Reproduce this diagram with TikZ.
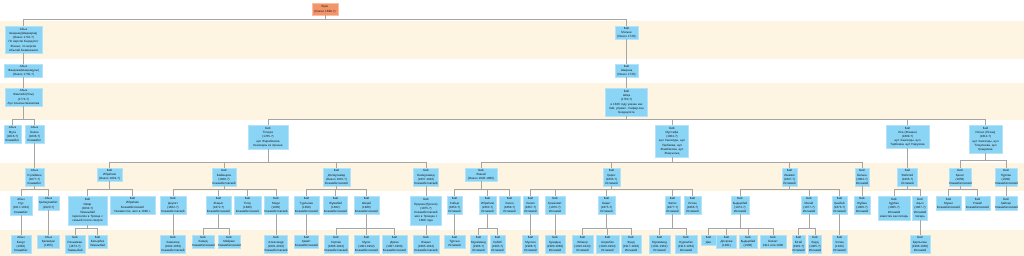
\documentclass[tikz,border=0pt]{standalone}
\usepackage{fontspec}
\setmainfont{Liberation Sans}
\definecolor{band}{RGB}{253,244,226}
\definecolor{nblue}{RGB}{138,212,246}
\definecolor{nborder}{RGB}{180,226,248}
\definecolor{rootfill}{RGB}{244,148,106}
\definecolor{rootborder}{RGB}{250,190,160}
\definecolor{lgray}{RGB}{165,165,165}
\definecolor{txt}{RGB}{25,25,25}
\tikzset{
 pn/.style={fill=nblue, draw=nborder, line width=0.3pt, inner xsep=0pt, inner ysep=0.3pt, align=center, anchor=north, font=\fontsize{3}{4.2}\selectfont, text=txt},
 rootn/.style={pn, fill=rootfill, draw=rootborder},
 conn/.style={draw=lgray, line width=1pt},
}
\newcommand\pnode[7][pn]{\node[#1, text width=#5pt, minimum height=#6pt] (#2) at (#3,#4) {#7};}
\newcommand\bus[3]{\foreach \c in {#3}{\draw[conn] (#1.south) -- (#1.south |- #2) -| (\c.north);}}
\newcommand\sln[2]{\draw[conn] (#1.south) -- (#2.north);}
\begin{document}
\begin{tikzpicture}[x=1pt,y=-1pt]
\useasboundingbox (0,0) rectangle (1024,256);
\fill[white] (0,0) rectangle (1024,256);
\fill[band] (0,21) rectangle (1024,59);
\fill[band] (0,83) rectangle (1024,120);
\fill[band] (0,163) rectangle (1024,191);
\fill[band] (0,230) rectangle (1024,256);
\coordinate (L20) at (0,20);
\coordinate (L120) at (0,120);
\coordinate (L161) at (0,161);
\coordinate (L163) at (0,163);
\coordinate (L190) at (0,190);
\coordinate (L229) at (0,229);
% row 0
\pnode[rootn]{root}{325}{3}{26}{12}{Бірін\\(Онкоо 1698-?)}
% row 1
\pnode{A1}{23.5}{26}{37}{27}{Абыз\\Шақшақ(Шақшарақ)\\(Онкоо 1710-?)\\По версии Бағдәулет\\Жаныс, по версии\\Абылай Бекмаханов}
\pnode{B1}{626.5}{26}{23}{13}{Бий\\Матыш\\(Онкоо 1730)}
% row 2
\pnode{A2}{23.5}{64}{38}{13}{Абыз\\Жанқожа(Шақшақұлы)\\(Онкоо 1735-?)}
\pnode{B2}{626.5}{64}{23}{13}{Бий\\Шақшақ\\(Онкоо 1735)}
% row 3
\pnode{A3}{23.5}{88}{37}{18}{Абыз\\Жанпейіс(Ұлы)\\(1774-?)\\Аул Асылан Шағалова}
\pnode{B3}{626.5}{88}{42}{28}{Бий\\Шоқа\\(1763-?)\\в 1820 году указан как\\бий, управл. Сафар-хан\\Бекдаулета}
% row 4
\pnode{A4a}{12.5}{125}{17}{18}{Абыз\\Мұса\\(1816-?)\\Кожамбет}
\pnode{A4b}{34.5}{125}{19}{18}{Абыз\\Бекен\\(1836-?)\\Кожамбет}
\pnode{T4}{268}{125}{40}{24}{Бий\\Тілеуке\\(1785-?)\\аул Жарабекова\\Кенесары из Аргына}
\pnode{M4}{672}{125}{33}{32}{Бий\\Мұстафа\\(1804-?)\\аул Хангелды, аул\\Тарбеева, аул\\Жамбекова, аул\\Жақсылық}
\pnode{I4}{907.5}{125}{43}{23}{Бий\\Иса (Жанаш)\\(1809-?)\\аул Хангелды, аул\\Тарбеева, аул Нарузова}
\pnode{K4}{985.5}{125}{33}{28}{Бий\\Ихлас (Исхақ)\\(1814-?)\\аул Хангелды, аул\\Тілеулеева, аул\\Қошумова}
% row 5
\pnode{A5}{34.5}{168}{19}{18}{Абыз\\Сүлеймен\\(1877-?)\\Кожамбет}
\pnode{Ib5}{109.5}{168}{25}{13}{Бий\\Ибраһим\\(Онкоо 1819-?)}
\pnode{Bm5}{224}{168}{24}{18}{Бий\\Баймырза\\(1828-?)\\Кожамбетовский}
\pnode{D5}{336.5}{168}{27}{18}{Бий\\Досмұхамед\\(Онкоо 1815-?)\\Кожамбетовский}
\pnode{Be5}{426}{168}{25}{18}{Бий\\Бекмұхамед\\(1837-1892)\\Кожамбетовский}
\pnode{Zh5}{481}{168}{32}{13}{Бий\\Жанай\\(Онкоо 1826-1880)}
\pnode{Q5}{611.5}{168}{17}{18}{Бий\\Қарес\\(1835-?)\\Исламий}
\pnode{Ish5}{789.5}{168}{15}{18}{Бий\\Ишмем\\(1837-?)\\Исламий}
\pnode{Bt5}{862}{168}{14}{18}{Бий\\Батыш\\(1864-?)\\Исламий}
\pnode{U5}{907.5}{168}{20}{18}{Бий\\Ұмбетей\\(1836-?)\\Исламий}
\pnode{Kn5}{960}{168}{22}{18}{Бий\\Қанат\\(1858)\\Кожамбетовский}
\pnode{Nr5}{1006}{168}{22}{18}{Бий\\Нұрлан\\(1860)\\Кожамбетовский}
% row 6
\pnode{A6a}{21}{196}{22}{19}{Абыз\\Нұх\\(1917-1942)\\Кожамбет}
\pnode{A6b}{48.5}{196}{21}{14}{Абыз\\Қалмұхамбет\\(1920-?)}
\pnode{O6}{87.5}{196}{39}{29}{Бий\\Омар\\(1834-?)\\Тамшыбай\\переселён в Троицк с\\семьёй после смерти}
\pnode{Ib6}{132.5}{196}{45}{18}{Бий\\Ибраһим\\Кожамбетовский\\Неизвестно, жил в 1896 г.}
\pnode{Da6}{173}{196}{26}{18}{Бий\\Дәулет\\(1862-?)\\Кожамбетовский}
\pnode{Zq6}{218.5}{196}{25}{18}{Бий\\Жақып\\(1872-?)\\Кожамбетовский}
\pnode{T6}{247.5}{196}{27}{18}{Бий\\Тілеу\\(1880)\\Кожамбетовский}
\pnode{Md6}{276}{196}{24}{18}{Бий\\Мәди\\(1885)\\Кожамбетовский}
\pnode{Tr6}{306.5}{196}{25}{18}{Бий\\Тұрлыхан\\(1858)\\Кожамбетовский}
\pnode{Zm6}{335.5}{196}{24}{18}{Бий\\Жұмабай\\(1862)\\Кожамбетовский}
\pnode{Sh6}{366.5}{196}{25}{18}{Бий\\Шоқай\\(1866)\\Кожамбетовский}
\pnode{Er6}{426}{196}{31}{29}{Бий\\Ерқожа (Ерғали)\\(1875-?)\\Кожамбетовский\\жил в Троицке с\\1898 года}
\pnode{Sb6}{454.5}{196}{15}{18}{Бий\\Сабыр\\(1853-?)\\Исламий}
\pnode{Ib6b}{487.5}{196}{17}{18}{Бий\\Ибраһим\\(1863-?)\\Исламий}
\pnode{Hs6}{509.5}{196}{21}{18}{Бий\\Хасен\\(1868-?)\\Исламий}
\pnode{Hl6}{530.5}{196}{15}{18}{Бий\\Халел\\(1867-?)\\Исламий}
\pnode{Qz6}{555}{196}{20}{18}{Бий\\Қожахмет\\(1876-?)\\Исламий}
\pnode{Bq6}{606.5}{196}{17}{18}{Бий\\Бақыт\\(1875-?)\\Исламий}
\pnode{Ft6}{672.5}{196}{15}{18}{Бий\\Фатих\\(1877-?)\\Исламий}
\pnode{Is6}{692.5}{196}{17}{18}{Бий\\Исхақ\\(1866-?)\\Исламий}
\pnode{Qd6}{740}{196}{18}{18}{Бий\\Қыдырбай\\(1873-?)\\Исламий}
\pnode{Mt6}{809}{196}{16}{18}{Бий\\Матай\\(1877-?)\\Исламий}
\pnode{Qb6}{839.5}{196}{15}{18}{Бий\\Қанбай\\(1876-?)\\Исламий}
\pnode{Zb6}{862}{196}{16}{18}{Бий\\Жұбаш\\(1900-?)\\Исламий}
\pnode{Qr6}{894}{196}{32}{24}{Бий\\Құрбан\\(1865-?)\\Исламий\\известен как писарь}
\pnode{Aq6}{920}{196}{15}{24}{Бий\\Ақыл\\(1867-?)\\Исламий\\писарь}
\pnode{Ms6}{948.5}{196}{25}{14}{Бий\\Мұғыл\\Кожамбетовский}
\pnode{Tq6}{977.5}{196}{25}{14}{Бий\\Ұлжай\\Кожамбетовский}
\pnode{Qs6}{1006}{196}{22}{14}{Бий\\Қайсар\\Кожамбетовский}
% row 7
\pnode{A7a}{21}{235}{20}{18}{Абыз\\Бекұл\\(1940)\\Кожамбет}
\pnode{A7b}{48.5}{235}{22}{13}{Абыз\\Қаламқас\\(1955)}
\pnode{R7a}{75}{235}{20}{18}{Бий\\Рахымжан\\(1873-?)\\Тамшыбай}
\pnode{R7b}{97.5}{235}{19}{13}{Бий\\Батырбек\\Тамшыбай}
\pnode{Hz7}{173}{235}{25}{18}{Бий\\Хамзагер\\(1902-1962)\\Кожамбетовский}
\pnode{Hm7}{203}{235}{22}{13}{Бий\\Хамид\\Кожамбетовский}
\pnode{Mr7}{229}{235}{22}{13}{Бий\\Мейрам\\Кожамбетовский}
\pnode{Al7}{276}{235}{23}{18}{Бий\\Александр\\(1901-2010)\\Кожамбетовский}
\pnode{Hmt7}{306.5}{235}{24}{13}{Бий\\Қамит\\Кожамбетовский}
\pnode{Hr7}{336}{235}{24}{18}{Бий\\Хорлан\\(1896-1942)\\Кожамбетовский}
\pnode{Mg7}{366.5}{235}{25}{18}{Бий\\Мұғиз\\(1901-1962)\\Кожамбетовский}
\pnode{Dh7}{394.5}{235}{25}{18}{Бий\\Дихан\\(1907-1968)\\Кожамбетовский}
\pnode{Zq7}{426}{235}{26}{18}{Бий\\Жақып\\(1885-1942)\\Кожамбетовский}
\pnode{Tr7}{454.5}{235}{21}{13}{Бий\\Тұрсын\\Исламий}
\pnode{Mh7}{478.5}{235}{17}{18}{Бий\\Мұхаммед\\(1906-?)\\Исламий}
\pnode{Hb7}{497.5}{235}{15}{18}{Бий\\Хабиб\\(1903-?)\\Исламий}
\pnode{Mh7b}{530.5}{235}{16}{18}{Бий\\Мұхсин\\(1908-?)\\Исламий}
\pnode{Qn7}{555}{235}{20}{18}{Бий\\Қуандық\\(1900-1960)\\Исламий}
\pnode{Al7b}{582.5}{235}{21}{18}{Бий\\Әлішер\\(1916-1943)\\Исламий}
\pnode{As7}{607.5}{235}{23}{18}{Бий\\Асқанбек\\(1910-1993)\\Исламий}
\pnode{Fd7}{631}{235}{20}{18}{Бий\\Фуад\\(1917-1992)\\Исламий}
\pnode{Mh7c}{659.5}{235}{21}{18}{Бий\\Мұхаммед\\(1911-1962)\\Исламий}
\pnode{Nr7}{686}{235}{22}{18}{Бий\\Нұрлыбек\\(1913-1962)\\Исламий}
\pnode{Dn7}{708.5}{235}{15}{10}{Бий\\Дан}
\pnode{Dk7}{726.5}{235}{20}{13}{Бий\\Досқожа\\(1901)}
\pnode{Qb7}{748}{235}{18}{13}{Бий\\Қыдырбай\\(1908)}
\pnode{Bk7}{773}{235}{26}{13}{Бий\\Бекзат\\1911 или 1908}
\pnode{Bt7}{798.5}{235}{13}{18}{Бий\\Бітай\\(1901-?)\\Исламий}
\pnode{Bd7}{815}{235}{13}{18}{Бий\\Бард\\(1905-?)\\Исламий}
\pnode{Ch7}{839.5}{235}{15}{18}{Бий\\Чолақ\\(1920)\\Исламий}
\pnode{Ql7}{920}{235}{20}{18}{Бий\\Қарлығаш\\(1908-1960)\\Исламий}
% connectors
\bus{root}{L20}{A1,B1}
\sln{A1}{A2}\sln{A2}{A3}
\sln{B1}{B2}\sln{B2}{B3}
\bus{A3}{L120}{A4a,A4b}
\bus{B3}{L120}{T4,M4,I4,K4}
\sln{A4b}{A5}
\bus{T4}{L163}{Ib5,Bm5,D5,Be5}
\bus{M4}{L163}{Zh5,Q5,Ish5,Bt5}
\sln{I4}{U5}
\bus{K4}{L161}{Kn5,Nr5}
\bus{A5}{L190}{A6a,A6b}
\bus{Ib5}{L190}{O6,Ib6}
\bus{Bm5}{L190}{Da6,Zq6,T6,Md6}
\bus{D5}{L190}{Tr6,Zm6,Sh6}
\sln{Be5}{Er6}
\bus{Zh5}{L190}{Sb6,Ib6b,Hs6}
\bus{Q5}{L190}{Hl6,Qz6,Bq6,Ft6,Is6}
\bus{Ish5}{L190}{Qd6,Mt6,Qb6}
\sln{Bt5}{Zb6}
\bus{U5}{L190}{Qr6,Aq6}
\bus{Kn5}{L190}{Ms6,Tq6}
\sln{Nr5}{Qs6}
\sln{A6a}{A7a}\sln{A6b}{A7b}
\bus{O6}{L229}{R7a,R7b}
\sln{Da6}{Hz7}
\bus{Zq6}{L229}{Hm7,Mr7}
\sln{Md6}{Al7}
\sln{Tr6}{Hmt7}
\bus{Sh6}{L229}{Hr7,Mg7,Dh7}
\sln{Er6}{Zq7}
\sln{Sb6}{Tr7}
\bus{Ib6b}{L229}{Mh7,Hb7}
\sln{Hl6}{Mh7b}\sln{Qz6}{Qn7}
\bus{Bq6}{L229}{Al7b,As7,Fd7}
\bus{Ft6}{L229}{Mh7c,Nr7}
\bus{Qd6}{L229}{Dn7,Dk7,Qb7,Bk7}
\bus{Mt6}{L229}{Bt7,Bd7}
\sln{Qb6}{Ch7}
\sln{Aq6}{Ql7}
\end{tikzpicture}
\end{document}
